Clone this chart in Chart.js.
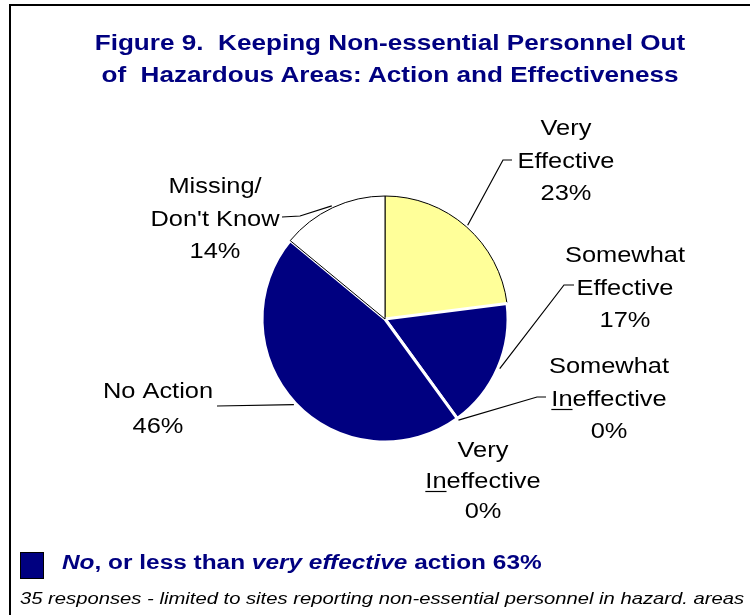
<!DOCTYPE html>
<html>
<head>
<meta charset="utf-8">
<script src="https://cdn.jsdelivr.net/npm/chart.js@4.4.1/dist/chart.umd.min.js"></script>
<style>
  html, body { margin: 0; padding: 0; background: #fff; }
  #wrap { position: relative; width: 750px; height: 615px; overflow: hidden; font-family: "Liberation Sans", Arial, sans-serif; }
  #frame { position: absolute; left: 9px; top: 4px; width: 800px; height: 700px; border-left: 2px solid #000; border-top: 2px solid #000; }
  #pie { position: absolute; left: 0; top: 0; }
  .title { position: absolute; left: 0; top: 27px; width: 780px; text-align: center; color: #000080; font-weight: bold; font-size: 22px; line-height: 32px; white-space: pre; transform: scaleX(1.187); transform-origin: 390px 0; }
  .summary { position: absolute; left: 62px; top: 550px; color: #000080; font-weight: bold; font-size: 20px; line-height: 24px; white-space: nowrap; transform: scaleX(1.22); transform-origin: 0 0; }
  .swatch { position: absolute; left: 20px; top: 552px; width: 22px; height: 25px; background: #000080; border: 1px solid #000; }
  .note { position: absolute; left: 20px; top: 589px; font-style: italic; font-size: 17px; line-height: 20px; color: #000; white-space: nowrap; transform: scaleX(1.19); transform-origin: 0 0; }
</style>
</head>
<body>
<div id="wrap">
  <div id="frame"></div>
  <canvas id="pie" width="750" height="615"></canvas>
  <div class="title">Figure 9.  Keeping Non-essential Personnel Out
of  Hazardous Areas: Action and Effectiveness</div>
  <div class="swatch"></div>
  <div class="summary"><i>No</i>, or less than <i>very effective</i> action 63%</div>
  <div class="note">35 responses - limited to sites reporting non-essential personnel in hazard. areas</div>
</div>
<script>
// data (percent of responses), clockwise from 12 o'clock
const categories = [
  "Very\nEffective",
  "Somewhat\nEffective",
  "Somewhat\nIneffective",
  "Very\nIneffective",
  "No Action",
  "Missing/\nDon't Know"
];
const shares = [23, 17, 0, 0, 46, 14];

// styling per slice - navy slices get a white edge, the light ones a black one
const fills = ["#FFFF99", "#000080", "#000080", "#000080", "#000080", "#FFFFFF"];
const edges = ["#000000", "#FFFFFF", "#FFFFFF", "#FFFFFF", "#FFFFFF", "#000000"];
const edgeWidths = [1, 3, 0, 0, 3, 1];

// label placement: centre x, first baseline, line step, leader bend points (label side first)
const labelSpots = [
  { x: 566, y: 135, step: 32.5, leader: [[512, 160], [503, 160]] },
  { x: 625, y: 262, step: 32.5, leader: [[574, 285], [564, 285]] },
  { x: 609, y: 373, step: 32.5, leader: [[546, 397], [537, 397]] },
  { x: 483, y: 457, step: 30.5, leader: [] },
  { x: 158, y: 398, step: 35, leader: [[217, 406]] },
  { x: 215, y: 193, step: 32.5, leader: [[282, 217], [300, 216]] }
];
const stretch = 1.155; // the original text is drawn wide

const sliceLabels = {
  id: "sliceLabels",
  afterDatasetsDraw(chart) {
    const ctx = chart.ctx;
    const meta = chart.getDatasetMeta(0);
    ctx.save();
    ctx.font = '22px "Liberation Sans", Arial, sans-serif';
    ctx.fillStyle = "#000";
    ctx.strokeStyle = "#000";
    ctx.lineWidth = 1.2;
    ctx.textAlign = "center";
    ctx.textBaseline = "alphabetic";

    labelSpots.forEach((spot, i) => {
      const arc = meta.data[i];
      const p = arc.getProps(["x", "y", "startAngle", "endAngle", "outerRadius"], true);
      const mid = (p.startAngle + p.endAngle) / 2;
      const r = p.outerRadius + 2;
      const ax = p.x + Math.cos(mid) * r;
      const ay = p.y + Math.sin(mid) * r;

      if (spot.leader.length) {
        ctx.beginPath();
        ctx.moveTo(spot.leader[0][0], spot.leader[0][1]);
        spot.leader.slice(1).forEach((pt) => ctx.lineTo(pt[0], pt[1]));
        ctx.lineTo(ax, ay);
        ctx.stroke();
      }

      const lines = categories[i].split("\n").concat(shares[i] + "%");
      lines.forEach((line, k) => {
        const by = spot.y + k * spot.step;
        ctx.save();
        ctx.translate(spot.x, by);
        ctx.scale(stretch, 1);
        ctx.fillText(line, 0, 0);
        ctx.restore();
        if (line.startsWith("Ineffective")) {
          const full = ctx.measureText(line).width * stretch;
          const part = ctx.measureText("In").width * stretch;
          const x0 = spot.x - full / 2;
          ctx.beginPath();
          ctx.moveTo(x0, by + 4);
          ctx.lineTo(x0 + part, by + 4);
          ctx.stroke();
        }
      });
    });
    ctx.restore();
  }
};

new Chart(document.getElementById("pie"), {
  type: "pie",
  data: {
    labels: categories,
    datasets: [
      {
        data: shares,
        backgroundColor: fills,
        borderColor: edges,
        borderWidth: edgeWidths,
        hoverOffset: 0
      }
    ]
  },
  options: {
    responsive: false,
    animation: false,
    radius: 123,
    layout: { padding: { left: 140, right: 120, top: 173, bottom: 150 } },
    plugins: {
      legend: { display: false },
      tooltip: { enabled: false },
      title: { display: false }
    }
  },
  plugins: [sliceLabels]
});
</script>
</body>
</html>
